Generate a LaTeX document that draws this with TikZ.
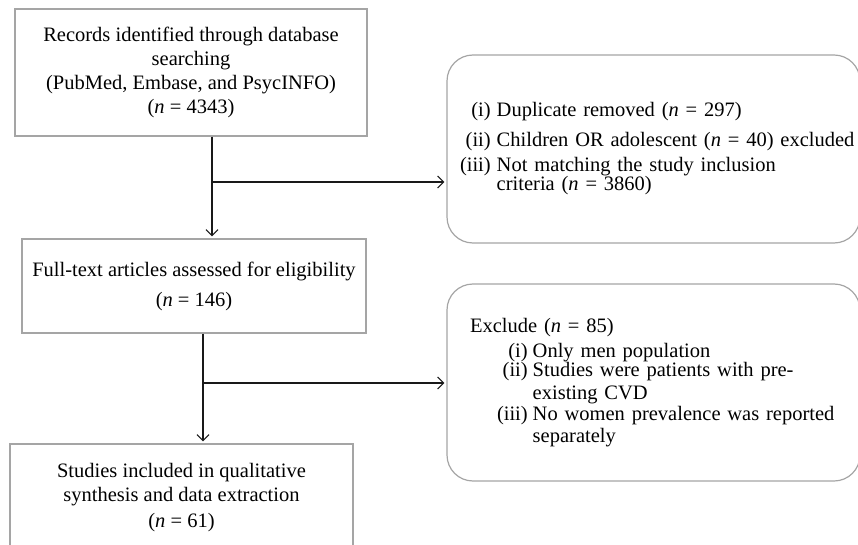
\documentclass[tikz,border=0pt]{standalone}
\usepackage{fontspec}
\setmainfont{Liberation Serif}
\usetikzlibrary{arrows.meta}
\definecolor{boxgray}{RGB}{165,165,165}
\tikzset{
    stage/.style={draw=boxgray, line width=1.2pt, align=center, inner sep=0pt,
        font=\fontsize{20.5}{24}\selectfont},
    excl/.style={draw=boxgray, line width=1.2pt, rounded corners=26pt, align=left,
        font=\fontsize{20.5}{24}\selectfont},
    flow/.style={draw=black!90, line width=1.1pt},
    arr/.style={flow, -{Straight Barb[length=6pt,width=12pt]}, shorten >=2pt}
}
\begin{document}
\begin{tikzpicture}[x=1pt,y=-1pt]
    \useasboundingbox (0,0) rectangle (858,545);
    \clip (0,0) rectangle (858,545);
    % left column
    \node[stage, minimum width=352pt, minimum height=127pt] (records) at (191,72.5)
        {Records identified through database\\ searching\\ (PubMed, Embase, and PsycINFO)\\ (\textit{n} = 4343)};
    \node[stage, minimum width=344pt, minimum height=94pt] (fulltext) at (194,286)
        {Full-text articles assessed for eligibility\\[6pt] (\textit{n} = 146)};
    \node[stage, minimum width=343pt, minimum height=107pt] (included) at (181.5,497.5)
        {Studies included in qualitative\\ synthesis and data extraction\\[1.5pt] (\textit{n} = 61)};
    % right column
    \node[excl, text width=387pt, inner xsep=13pt, minimum height=188pt] (dupl) at (653.5,149)
        {\begin{tabular}{@{}r@{\hspace{6pt}}l@{}}
            (i) & Duplicate removed (\textit{n} = 297)\\[6pt]
            (ii) & Children OR adolescent (\textit{n} = 40) excluded\\[1pt]
            (iii) & Not matching the study inclusion\\[-5pt]
                & criteria (\textit{n} = 3860)
        \end{tabular}};
    \node[excl, text width=367pt, inner xsep=23pt, minimum height=197pt] (exclude) at (653.5,382.5)
        {\begin{tabular}{@{}p{27pt}@{}r@{\hspace{5pt}}l@{}}
            \multicolumn{3}{@{}l@{}}{Exclude (\textit{n} = 85)}\\[1pt]
            & (i) & Only men population\\[-5pt]
            & (ii) & Studies were patients with pre-\\[-1pt]
            & & existing CVD\\[-3pt]
            & (iii) & No women prevalence was reported\\[-2pt]
            & & separately
        \end{tabular}};
    % connectors
    \coordinate (split1) at (212,182);
    \coordinate (split2) at (203,383);
    \draw[flow] (records.south -| split1) -- (split1);
    \draw[arr] (split1) -- (split1 |- fulltext.north);
    \draw[arr] (split1) -- (split1 -| dupl.west);
    \draw[flow] (fulltext.south -| split2) -- (split2);
    \draw[arr] (split2) -- (split2 |- included.north);
    \draw[arr] (split2) -- (split2 -| exclude.west);
\end{tikzpicture}
\end{document}
